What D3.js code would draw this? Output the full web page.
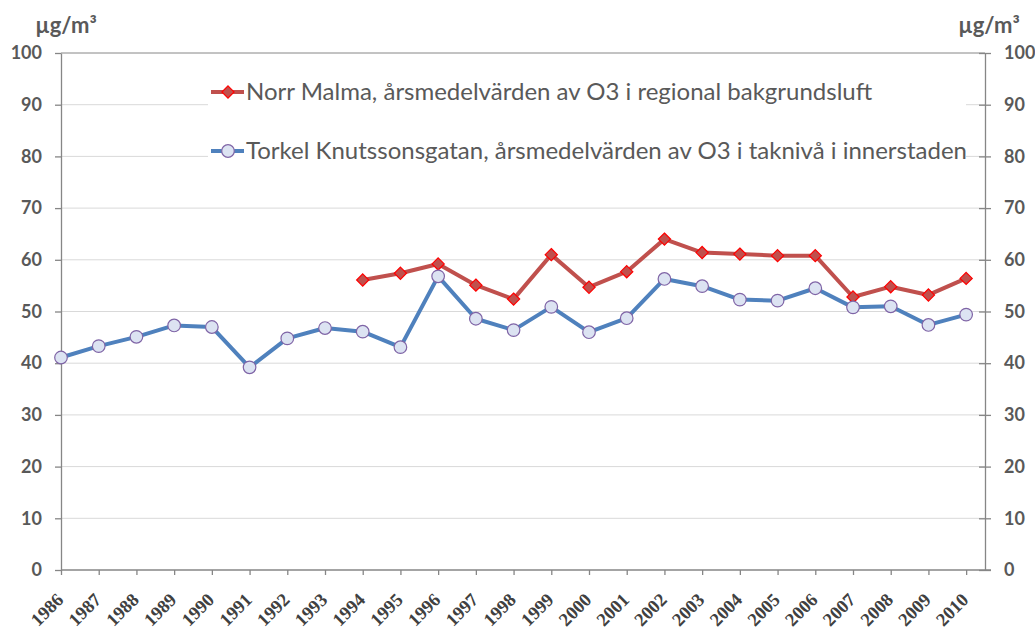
<!DOCTYPE html>
<html>
<head>
<meta charset="utf-8">
<script src="https://cdn.jsdelivr.net/npm/d3@7"></script>
<style>
  body { margin: 0; background: #fff; }
  svg { display: block; }
</style>
</head>
<body>
<script>
"use strict";

// years on the x axis
const years = d3.range(1986, 2011);

// Norr Malma, regional background (starts 1994)
const norrYears = d3.range(1994, 2011);
const norrValues = [56.1, 57.4, 59.2, 55.1, 52.4, 61.0, 54.7, 57.7, 64.0,
  61.4, 61.1, 60.8, 60.8, 52.8, 54.8, 53.2, 56.4];

// Torkel Knutssonsgatan, roof level in the inner city
const torkelValues = [41.1, 43.3, 45.1, 47.3, 47.0, 39.2, 44.8, 46.8, 46.1,
  43.1, 56.8, 48.6, 46.4, 50.9, 46.0, 48.7, 56.3, 54.9, 52.3, 52.1, 54.5,
  50.8, 51.0, 47.4, 49.4];

const yTicks = d3.range(0, 101, 10);
const unitLabel = "µg/m³";
const legendLabels = [
  "Norr Malma, årsmedelvärden av O3 i regional bakgrundsluft",
  "Torkel Knutssonsgatan, årsmedelvärden av O3 i taknivå i innerstaden"
];

const width = 1035;
const height = 630;
const plot = { left: 61, right: 985, top: 53, bottom: 570 };

const axisColor = "#868686";
const gridColor = "#d9d9d9";
const textColor = "#595959";
const redLine = "#c0504d";
const blueLine = "#4f81bd";

const svg = d3.select("body")
  .append("svg")
  .attr("width", width)
  .attr("height", height);

// the plot ends half a step after 2010
const x = d3.scaleLinear().domain([1986, 2010.5]).range([plot.left, plot.right]);
const y = d3.scaleLinear().domain([0, 100]).range([plot.bottom, plot.top]);

// gridlines
svg.append("g")
  .selectAll("line")
  .data(yTicks.filter((d) => d > 0 && d < 100))
  .join("line")
  .attr("x1", plot.left)
  .attr("x2", plot.right)
  .attr("y1", (d) => y(d))
  .attr("y2", (d) => y(d))
  .attr("stroke", gridColor)
  .attr("stroke-width", 1);

// top border
svg.append("line")
  .attr("x1", plot.left).attr("x2", plot.right)
  .attr("y1", y(100)).attr("y2", y(100))
  .attr("stroke", axisColor);

function styleAxis(g) {
  g.select(".domain").attr("stroke", axisColor).attr("stroke-width", 1.3);
  g.selectAll(".tick line").attr("stroke", axisColor).attr("stroke-width", 1.3);
  g.selectAll(".tick text")
    .attr("fill", textColor)
    .style("font-family", "Lato, 'Liberation Sans', sans-serif")
    .style("font-weight", "bold")
    .style("font-size", "18px");
}

const leftAxis = svg.append("g")
  .attr("transform", `translate(${plot.left},0)`)
  .call(d3.axisLeft(y).tickValues(yTicks).tickSize(6).tickPadding(13).tickSizeOuter(0))
  .call(styleAxis);

const rightAxis = svg.append("g")
  .attr("transform", `translate(${plot.right},0)`)
  .call(d3.axisRight(y).tickValues(yTicks).tickSize(6).tickPadding(13).tickSizeOuter(0))
  .call(styleAxis);
rightAxis.selectAll(".tick line").attr("x1", -6);

const bottomAxis = svg.append("g")
  .attr("transform", `translate(0,${plot.bottom})`)
  .call(d3.axisBottom(x).tickValues(years).tickSize(5).tickSizeOuter(0).tickFormat(d3.format("d")));
bottomAxis.select(".domain").attr("stroke", axisColor).attr("stroke-width", 1.3)
  .attr("d", `M${plot.left},0H${plot.right + 6}`);
bottomAxis.selectAll(".tick line").attr("stroke", axisColor).attr("stroke-width", 1.3);
bottomAxis.selectAll(".tick text")
  .attr("fill", "#404040")
  .attr("text-anchor", "end")
  .attr("dy", 0)
  .attr("y", 0)
  .attr("transform", "translate(3,31) rotate(-45)")
  .style("font-family", "'Liberation Serif', 'Times New Roman', serif")
  .style("font-weight", "bold")
  .style("font-size", "18.5px");

// unit labels
[66, 989].forEach((ux) => {
  svg.append("text")
    .attr("x", ux)
    .attr("y", 33)
    .attr("text-anchor", "middle")
    .attr("fill", textColor)
    .style("font-family", "Lato, 'Liberation Sans', sans-serif")
    .style("font-weight", "bold")
    .style("font-size", "22px")
    .text(unitLabel);
});

// legend background hides the gridlines behind it
svg.append("rect")
  .attr("x", 208)
  .attr("y", 64)
  .attr("width", 758)
  .attr("height", 120)
  .attr("fill", "#fff");

const line = d3.line()
  .x((d) => x(d[0]))
  .y((d) => y(d[1]));

const norrData = norrYears.map((yr, i) => [yr, norrValues[i]]);
const torkelData = years.map((yr, i) => [yr, torkelValues[i]]);

const diamond = d3.symbol().type(d3.symbolDiamond2).size(95);

function drawDiamond(sel) {
  sel.attr("d", diamond)
    .attr("fill", redLine)
    .attr("stroke", "#ff0000")
    .attr("stroke-width", 1.2);
}

function drawCircle(sel) {
  sel.attr("r", 6.3)
    .attr("fill", "#dce3f2")
    .attr("stroke", "#7f64a6")
    .attr("stroke-width", 1.2);
}

// Torkel series
svg.append("path")
  .datum(torkelData)
  .attr("d", line)
  .attr("fill", "none")
  .attr("stroke", blueLine)
  .attr("stroke-width", 4)
  .attr("stroke-linejoin", "round");

// Norr Malma series
svg.append("path")
  .datum(norrData)
  .attr("d", line)
  .attr("fill", "none")
  .attr("stroke", redLine)
  .attr("stroke-width", 4)
  .attr("stroke-linejoin", "round");

svg.append("g")
  .selectAll("path")
  .data(norrData)
  .join("path")
  .attr("transform", (d) => `translate(${x(d[0])},${y(d[1])})`)
  .call(drawDiamond);

svg.append("g")
  .selectAll("circle")
  .data(torkelData)
  .join("circle")
  .attr("cx", (d) => x(d[0]))
  .attr("cy", (d) => y(d[1]))
  .call(drawCircle);

// legend
const legendRows = [
  { y: 92, color: redLine, marker: "diamond", label: legendLabels[0] },
  { y: 151, color: blueLine, marker: "circle", label: legendLabels[1] }
];

const legend = svg.append("g");
legendRows.forEach((row) => {
  legend.append("line")
    .attr("x1", 211).attr("x2", 244)
    .attr("y1", row.y).attr("y2", row.y)
    .attr("stroke", row.color)
    .attr("stroke-width", 4);
  if (row.marker === "diamond") {
    legend.append("path")
      .attr("transform", `translate(228,${row.y})`)
      .call(drawDiamond);
  } else {
    legend.append("circle")
      .attr("cx", 228).attr("cy", row.y)
      .call(drawCircle);
  }
  legend.append("text")
    .attr("x", 246)
    .attr("y", row.y + 8)
    .attr("fill", textColor)
    .style("font-family", "Lato, 'Liberation Sans', sans-serif")
    .style("font-size", "24px")
    .text(row.label);
});
</script>
</body>
</html>
